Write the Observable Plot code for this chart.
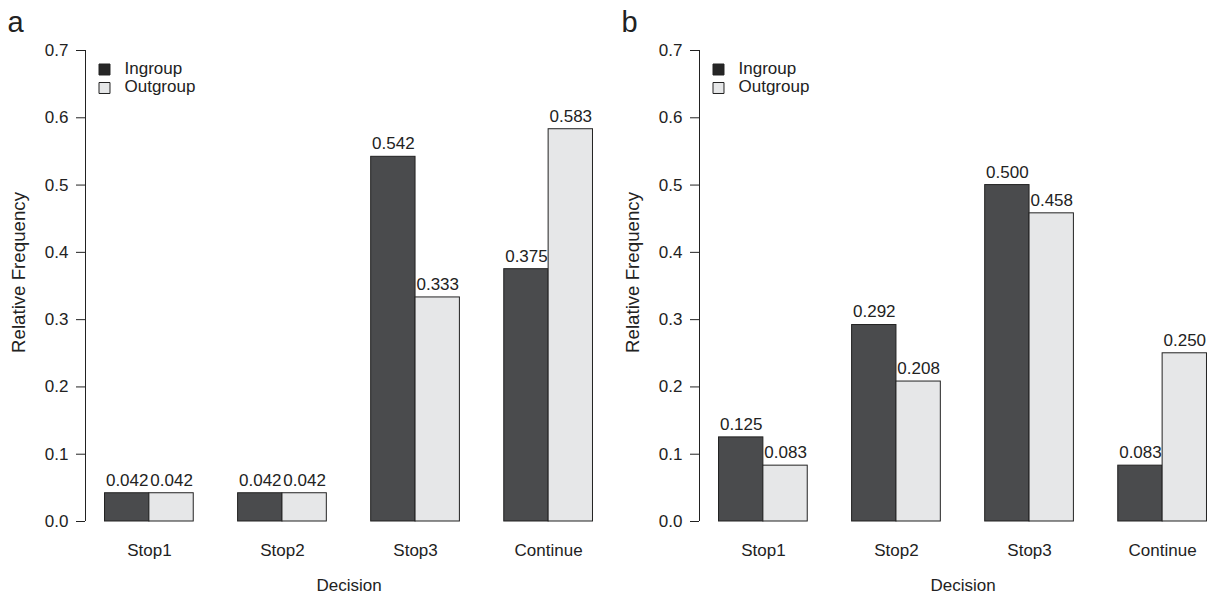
<!DOCTYPE html>
<html>
<head>
<meta charset="utf-8">
<script src="https://cdn.jsdelivr.net/npm/d3@7"></script>
<script src="https://cdn.jsdelivr.net/npm/@observablehq/plot@0.6"></script>
<style>
  html, body { margin: 0; padding: 0; background: #fff; overflow: hidden; }
  #wrap { position: relative; width: 1213px; height: 595px; overflow: hidden; }
  #wrap svg { position: absolute; top: 0; }
</style>
</head>
<body>
<div id="wrap"></div>
<script>
// ---- data ----
const categories = ["Stop1", "Stop2", "Stop3", "Continue"];
const seriesNames = ["Ingroup", "Outgroup"];
const panelLetters = ["a", "b"];
const panelAIngroup = [0.042, 0.042, 0.542, 0.375];
const panelAOutgroup = [0.042, 0.042, 0.333, 0.583];
const panelBIngroup = [0.125, 0.292, 0.500, 0.083];
const panelBOutgroup = [0.083, 0.208, 0.458, 0.250];
const yTicks = [0, 0.1, 0.2, 0.3, 0.4, 0.5, 0.6, 0.7];
const xTitle = "Decision";
const yTitle = "Relative Frequency";

// ---- styling ----
const barColors = ["#4a4b4d", "#e6e7e8"];
const legendColors = ["#262626", "#e6e7e8"];
const ink = "#222";
const fontFamily = "'Liberation Sans', Arial, Helvetica, sans-serif";

function panel(letter, ing, outg) {
  const rows = [];
  categories.forEach((c, i) => {
    [ing[i], outg[i]].forEach((v, j) => {
      rows.push({cat: c, series: seriesNames[j], value: v, x1: 3 * i + 1 + j, x2: 3 * i + 2 + j});
    });
  });
  const fmt = d3.format(".3f");
  return Plot.plot({
    width: 614,
    height: 595,
    marginLeft: 85,
    marginRight: 2,
    marginTop: 50,
    marginBottom: 74,
    x: {domain: [0.56, 12.44], axis: null},
    y: {domain: [0, 0.7], axis: null},
    color: {domain: seriesNames, range: barColors},
    style: {fontFamily, fontSize: "17px", color: ink, background: "transparent", overflow: "visible"},
    marks: [
      Plot.rect(rows, {x1: "x1", x2: "x2", y1: 0, y2: "value", fill: "series", stroke: ink, strokeWidth: 1}),
      Plot.text(rows, {x: d => (d.x1 + d.x2) / 2, y: "value", text: d => fmt(d.value), dy: -13, lineAnchor: "middle", fill: ink, fontSize: 17}),
      Plot.ruleX([0.56], {y1: 0, y2: 0.7, stroke: ink, strokeWidth: 1}),
      Plot.axisY({ticks: yTicks, tickFormat: ".1f", tickSize: 9, tickPadding: 8, label: null, fontSize: 17, fill: ink, stroke: ink}),
      Plot.text(categories, {x: (d, i) => 3 * i + 2, frameAnchor: "bottom", dy: 29, lineAnchor: "middle", textAnchor: "middle", text: d => d, fill: ink, fontSize: 17}),
      Plot.text([xTitle], {frameAnchor: "bottom", dy: 64, lineAnchor: "middle", textAnchor: "middle", text: d => d, fill: ink, fontSize: 17}),
      Plot.text([yTitle], {frameAnchor: "left", dx: -66, dy: -13.5, rotate: -90, lineAnchor: "middle", textAnchor: "middle", text: d => d, fill: ink, fontSize: 18.7}),
      Plot.text([letter], {frameAnchor: "top-left", dx: -78, dy: -28, lineAnchor: "middle", textAnchor: "start", text: d => d, fill: ink, fontSize: 29}),
      ...seriesNames.flatMap((s, k) => [
        Plot.dot([s], {frameAnchor: "top-left", dx: 19, dy: 19 + 18.5 * k, symbol: "square", r: 6.2, fill: legendColors[k], stroke: ink, strokeWidth: 1}),
        Plot.text([s], {frameAnchor: "top-left", dx: 39, dy: 18 + 18.5 * k, lineAnchor: "middle", textAnchor: "start", text: d => d, fill: ink, fontSize: 17})
      ])
    ]
  });
}

const wrap = document.getElementById("wrap");
const a = panel(panelLetters[0], panelAIngroup, panelAOutgroup);
a.style.left = "0px";
wrap.appendChild(a);
const b = panel(panelLetters[1], panelBIngroup, panelBOutgroup);
b.style.left = "614px";
wrap.appendChild(b);
</script>
</body>
</html>
